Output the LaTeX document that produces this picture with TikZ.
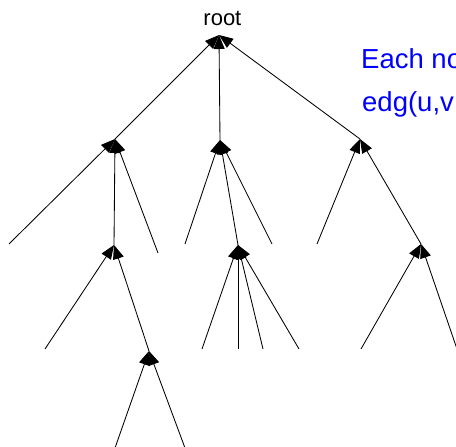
\documentclass[tikz,border=0pt]{standalone}
\usepackage{fontspec}
\setmainfont{Liberation Sans}
\usetikzlibrary{arrows.meta}
\definecolor{txtblue}{RGB}{0,0,255}
\tikzset{
  edge/.style={line width=0.85pt, -{Triangle[length=14pt,width=11pt]}},
  lbl/.style={font=\fontsize{22}{26}\selectfont, inner sep=0pt, anchor=base},
  note/.style={font=\fontsize{27.5}{32}\selectfont, text=txtblue, inner sep=0pt, anchor=base west}
}
\begin{document}
\begin{tikzpicture}[x=1pt,y=-1pt]
\useasboundingbox (0,0) rectangle (456,447);
\clip (0,0) rectangle (456,447);
% internal points
\coordinate (r) at (219,35);
\coordinate (a) at (115,139);
\coordinate (b) at (220,140);
\coordinate (c) at (360,139);
\coordinate (a1) at (114,245);
\coordinate (b2) at (238,245);
\coordinate (c2) at (421,244);
\coordinate (a3) at (149,351);
% leaves
\coordinate (la1) at (9,244);
\coordinate (la2) at (158,253);
\coordinate (lb1) at (185,244);
\coordinate (lb2) at (272,244);
\coordinate (lc1) at (317,244);
\coordinate (la11) at (45,349);
\coordinate (lb21) at (202,349);
\coordinate (lb22) at (238,349);
\coordinate (lb23) at (263,349);
\coordinate (lb24) at (299,349);
\coordinate (lc21) at (361,349);
\coordinate (lc22) at (457,349);
\coordinate (la31) at (115,448);
\coordinate (la32) at (185,448);
% labels
\node[lbl] (rootlabel) at (222.4,26) {root};
\node[note] (note1) at (361,68.5) {Each node};
\node[note] (note2) at (362,111.5) {edg(u,v};
% edges
\draw[edge] (a) -- (r);
\draw[edge] (b) -- (r);
\draw[edge] (c) -- (r);
\draw[edge] (la1) -- (a);
\draw[edge] (a1) -- (a);
\draw[edge] (la2) -- (a);
\draw[edge] (lb1) -- (b);
\draw[edge] (b2) -- (b);
\draw[edge] (lb2) -- (b);
\draw[edge] (lc1) -- (c);
\draw[edge] (c2) -- (c);
\draw[edge] (la11) -- (a1);
\draw[edge] (a3) -- (a1);
\draw[edge] (lb21) -- (b2);
\draw[edge] (lb22) -- (b2);
\draw[edge] (lb23) -- (b2);
\draw[edge] (lb24) -- (b2);
\draw[edge] (lc21) -- (c2);
\draw[edge] (lc22) -- (c2);
\draw[edge] (la31) -- (a3);
\draw[edge] (la32) -- (a3);
\end{tikzpicture}
\end{document}
